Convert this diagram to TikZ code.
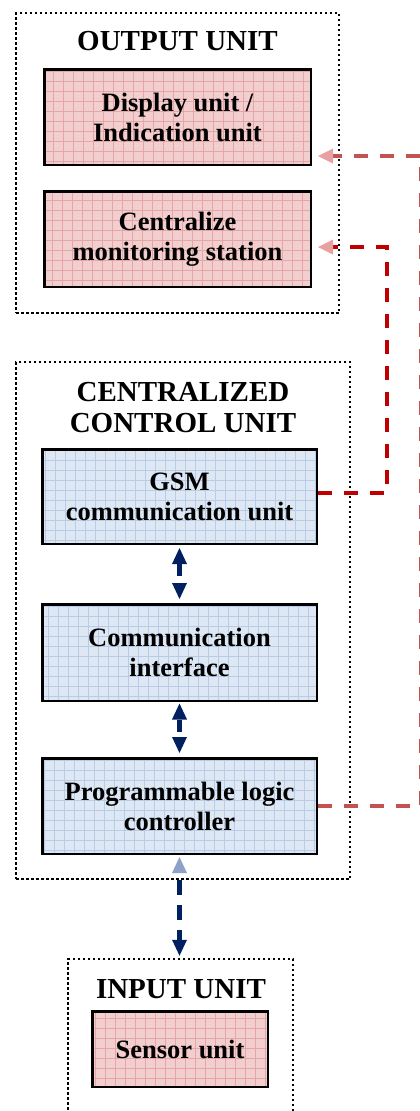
\documentclass[tikz,border=0pt]{standalone}
\usepackage{fontspec}
\setmainfont{Liberation Serif}
\usetikzlibrary{arrows.meta}

\definecolor{navy}{RGB}{0,32,96}
\definecolor{darkred}{RGB}{192,0,0}
\definecolor{softred}{RGB}{196,82,80}
\definecolor{tippink}{RGB}{232,160,160}
\definecolor{tipblue}{RGB}{140,162,200}
\definecolor{pinkfill}{RGB}{242,206,206}
\definecolor{pinkgrid}{RGB}{228,166,166}
\definecolor{bluefill}{RGB}{222,232,244}
\definecolor{bluegrid}{RGB}{184,204,230}

\newcommand\unitboxfont{\bfseries\fontsize{26.5}{30}\selectfont}
\newcommand\unittitlefont{\bfseries\fontsize{29}{31}\selectfont}

\tikzset{
  unitframe/.style={draw, line width=2.5pt, dash pattern=on 2.5pt off 2.5pt, inner sep=0pt},
  unittitle/.style={font=\unittitlefont, align=center, inner sep=0pt},
  boxbase/.style={draw, line width=2.5pt, align=center, font=\unitboxfont, inner sep=0pt},
  pinkbox/.style={boxbase, fill=pinkfill,
    path picture={\draw[pinkgrid, line width=0.7pt, step=10pt]
      (path picture bounding box.south west) grid (path picture bounding box.north east);}},
  bluebox/.style={boxbase, fill=bluefill,
    path picture={\draw[bluegrid, line width=0.7pt, step=10pt]
      (path picture bounding box.south west) grid (path picture bounding box.north east);}},
  navytip/.tip={Triangle[length=16pt, width=15pt, line width=0pt, color=navy]},
  paletip/.tip={Triangle[length=16pt, width=15pt, line width=0pt, color=tipblue]},
  redtip/.tip={Triangle[length=15pt, width=15pt, line width=0pt, color=tippink]},
  bluelink/.style={navy, line width=4.5pt},
  redlink/.style={line width=3.5pt, dash pattern=on 14pt off 12pt},
}

\begin{document}
\begin{tikzpicture}[x=1pt, y=-1pt]
  \useasboundingbox (0,0) rectangle (420,1111);
  \clip (0,0) rectangle (420,1111);

  % output unit
  \node[unitframe, minimum width=323pt, minimum height=300pt] (outframe) at (177.5,163) {};
  \node[unittitle, anchor=base] (outtitle) at (177.5,50) {OUTPUT UNIT};
  \node[pinkbox, minimum width=266.5pt, minimum height=95.5pt] (disp) at (177.5,117)
    {Display unit /\\Indication unit};
  \node[pinkbox, minimum width=266.5pt, minimum height=95.5pt] (cms) at (177.5,239)
    {Centralize\\monitoring station};

  % centralized control unit
  \node[unitframe, minimum width=334pt, minimum height=517pt] (ctrlframe) at (183,620.5) {};
  \node[unittitle] (ctrltitle) at (183,408) {CENTRALIZED\\CONTROL UNIT};
  \node[bluebox, minimum width=274.5pt, minimum height=94.5pt] (gsm) at (179.5,496.5)
    {GSM\\communication unit};
  \node[bluebox, minimum width=274.5pt, minimum height=96.5pt] (ci) at (179.5,652.5)
    {Communication\\interface};
  \node[bluebox, minimum width=274.5pt, minimum height=95.5pt] (plc) at (179.5,806)
    {Programmable logic\\controller};

  % input unit
  \node[unitframe, minimum width=225pt, minimum height=162pt] (inframe) at (180.5,1040) {};
  \node[unittitle, anchor=base] (intitle) at (181,998) {INPUT UNIT};
  \node[pinkbox, minimum width=175.5pt, minimum height=75.5pt] (sensor) at (180,1049)
    {Sensor unit};

  % links inside the control unit
  \draw[bluelink, dash pattern=on 12pt off 30pt, shorten <=3pt, shorten >=4pt,
        navytip-navytip] (gsm.south) -- (ci.north);
  \draw[bluelink, dash pattern=on 12pt off 30pt, shorten <=1.5pt, shorten >=4pt,
        navytip-navytip] (ci.south) -- (plc.north);

  % link between controller and sensors
  \draw[bluelink, dash pattern=on 15pt off 10pt, dash phase=18pt, shorten <=2pt, shorten >=2pt,
        paletip-navytip] (plc.south) -- (plc.south |- inframe.north);

  % links to the output unit
  \coordinate (rtop) at (421,156);
  \draw[redlink, softred, shorten >=6pt, -redtip]
        (plc.east) -| (rtop) -- (disp.east |- rtop);

  \coordinate (gturn) at (387,493);
  \coordinate (cturn) at (387,247);
  \draw[redlink, darkred, shorten >=6pt, -redtip]
        (gsm.east |- gturn) -- (gturn) -- (cturn) -- (cms.east |- cturn);
\end{tikzpicture}
\end{document}
